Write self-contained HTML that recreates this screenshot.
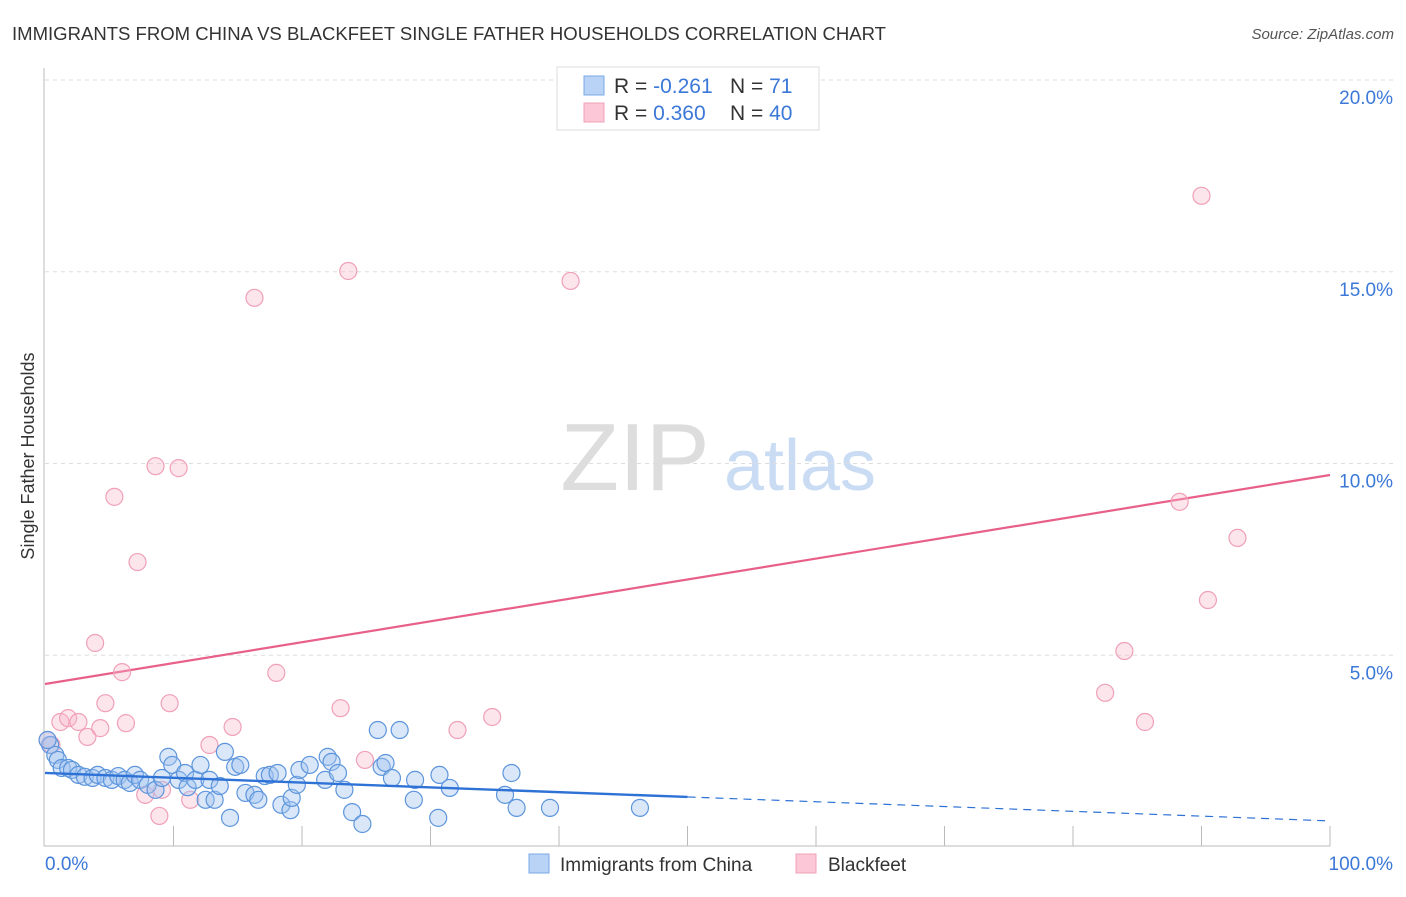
<!DOCTYPE html>
<html><head><meta charset="utf-8"><style>
body{margin:0;background:#fff;font-family:"Liberation Sans",sans-serif;}
svg text{font-family:"Liberation Sans",sans-serif;}
</style></head><body>
<svg width="1406" height="892" xmlns="http://www.w3.org/2000/svg">
<text x="12" y="40" font-size="18" fill="#333" textLength="874" lengthAdjust="spacingAndGlyphs">IMMIGRANTS FROM CHINA VS BLACKFEET SINGLE FATHER HOUSEHOLDS CORRELATION CHART</text>
<text x="1394" y="39" font-size="15" fill="#555" font-style="italic" text-anchor="end">Source: ZipAtlas.com</text>
<text x="34" y="456" font-size="18" fill="#333" text-anchor="middle" transform="rotate(-90 34 456)">Single Father Households</text>
<g><text x="635" y="490" font-size="96" fill="#ddd" text-anchor="middle" font-family="Liberation Serif">ZIP</text><text x="800" y="490" font-size="72" fill="#c9dcf3" text-anchor="middle">atlas</text></g>
<g id="grid"></g><g id="axes"></g><g id="lines"></g><g id="pts"></g>
<g>
<rect x="557" y="67" width="262" height="63" fill="#fff" stroke="#ddd"/>
<rect x="584" y="76" width="20" height="19" fill="#b8d3f5" stroke="#7aaae6"/>
<rect x="584" y="103" width="20" height="19" fill="#fcc7d6" stroke="#f0a0b8"/>
<text x="614" y="93" font-size="21" fill="#333">R = <tspan fill="#3b78d8">-0.261</tspan></text>
<text x="730" y="93" font-size="21" fill="#333">N = <tspan fill="#3b78d8"> 71</tspan></text>
<text x="614" y="120" font-size="21" fill="#333">R = <tspan fill="#3b78d8"> 0.360</tspan></text>
<text x="730" y="120" font-size="21" fill="#333">N = <tspan fill="#3b78d8">40</tspan></text>
</g>
<g>
<rect x="529" y="854" width="20" height="19" fill="#b8d3f5" stroke="#7aaae6"/>
<text x="560" y="871" font-size="19" fill="#333">Immigrants from China</text>
<rect x="796" y="854" width="20" height="19" fill="#fcc7d6" stroke="#f0a0b8"/>
<text x="828" y="871" font-size="19" fill="#333">Blackfeet</text>
</g>
</svg>
<script>
const yTicks=[5,10,15,20];
const yTickLabels=["5.0%","10.0%","15.0%","20.0%"];
const xTickLabels=["0.0%","100.0%"];
const chinaX=[0.4,0.8,1.0,1.3,1.8,2.1,2.6,3.1,3.7,4.1,4.7,5.2,5.7,6.2,6.6,7.0,7.4,8.0,8.6,9.1,9.6,9.9,10.4,10.9,11.1,11.7,12.1,12.5,12.8,13.2,13.6,14.0,14.4,14.8,15.2,15.6,16.3,16.6,17.1,17.5,18.1,18.4,19.1,19.2,19.6,19.8,20.6,21.8,22.0,22.3,22.8,23.3,23.9,24.7,25.9,26.2,26.5,27.0,27.6,28.7,28.8,30.6,30.7,31.5,35.8,36.3,36.7,39.3,46.3,0.2];
const chinaY=[2.66,2.40,2.27,2.06,2.06,2.01,1.88,1.83,1.80,1.88,1.80,1.75,1.85,1.75,1.67,1.88,1.75,1.62,1.49,1.80,2.35,2.14,1.75,1.93,1.56,1.75,2.14,1.23,1.75,1.23,1.59,2.48,0.76,2.09,2.14,1.41,1.36,1.23,1.85,1.88,1.93,1.10,0.96,1.28,1.62,2.01,2.14,1.75,2.35,2.22,1.93,1.49,0.91,0.60,3.05,2.09,2.19,1.80,3.05,1.23,1.75,0.76,1.88,1.54,1.36,1.93,1.02,1.02,1.02,2.79];
const blackX=[0.2,0.5,1.2,1.8,2.6,3.3,4.3,4.7,5.4,3.9,6.0,6.3,7.2,7.8,8.6,8.9,9.1,9.7,10.4,11.3,12.8,14.6,16.3,18.0,23.0,23.6,24.9,32.1,34.8,40.9,47.2,82.5,84.0,85.6,88.3,90.0,90.5,92.8];
const blackY=[2.79,2.66,3.26,3.36,3.26,2.87,3.10,3.75,9.13,5.32,4.56,3.23,7.43,1.36,9.93,0.81,1.49,3.75,9.88,1.23,2.66,3.13,14.32,4.54,3.62,15.02,2.27,3.05,3.39,14.76,19.4,4.02,5.11,3.26,9.0,16.98,6.44,8.06];
const chinaTrend=[1.93,0.68];
const blackTrend=[4.25,9.70];
const X=v=>45+v*12.85, Y=v=>847-v*38.35;
const NS="http://www.w3.org/2000/svg";
function mk(t,a,p){const e=document.createElementNS(NS,t);for(const k in a)e.setAttribute(k,a[k]);p.appendChild(e);return e;}
const grid=document.getElementById('grid');
yTicks.forEach((t,i)=>{
 const l=mk('line',{x1:45,x2:1394,y1:Y(t),y2:Y(t),stroke:'#ddd','stroke-dasharray':'4,4'},grid);
 
 
 const tx=mk('text',{x:1393,y:Y(t)+24,'font-size':19,fill:'#3b78d8','text-anchor':'end'},grid);
 tx.textContent=yTickLabels[i];
 
 
});
const axes=document.getElementById('axes');
const ya=mk('line',{x1:44,x2:44,y1:68,y2:846,stroke:'#bbb'},axes);


const xa=mk('line',{x1:44,x2:1330,y1:846,y2:846,stroke:'#bbb'},axes);


for(let i=1;i<=10;i++){const tk=mk('line',{x1:X(i*10),x2:X(i*10),y1:826,y2:846,stroke:'#bbb'},axes);
 
 }
const xl0=mk('text',{x:45,y:870,'font-size':19,fill:'#3b78d8'},axes);xl0.textContent=xTickLabels[0];


const xl1=mk('text',{x:1393,y:870,'font-size':19,fill:'#3b78d8','text-anchor':'end'},axes);xl1.textContent=xTickLabels[1];


const pts=document.getElementById('pts');
blackX.forEach((x,i)=>{const c=mk('circle',{cx:X(x),cy:Y(blackY[i]),r:8.5,fill:'rgba(248,180,200,0.35)',stroke:'#f0a0b8','stroke-width':1.2},pts);
 
 });
chinaX.forEach((x,i)=>{const c=mk('circle',{cx:X(x),cy:Y(chinaY[i]),r:8.5,fill:'rgba(160,195,240,0.4)',stroke:'#5d95dc','stroke-width':1.2},pts);
 
 });
const lines=document.getElementById('lines');
const bt=mk('line',{x1:X(0),y1:Y(blackTrend[0]),x2:X(100),y2:Y(blackTrend[1]),stroke:'#e8608a','stroke-width':2.2},lines);


const cm=(chinaTrend[0]+chinaTrend[1])/2;
const ct=mk('line',{x1:X(0),y1:Y(chinaTrend[0]),x2:X(50),y2:Y(cm),stroke:'#2f72d6','stroke-width':2.4},pts);


const cd=mk('line',{x1:X(50),y1:Y(cm),x2:X(100),y2:Y(chinaTrend[1]),stroke:'#2f72d6','stroke-width':1.2,'stroke-dasharray':'8,6'},pts);


</script>
</body></html>
